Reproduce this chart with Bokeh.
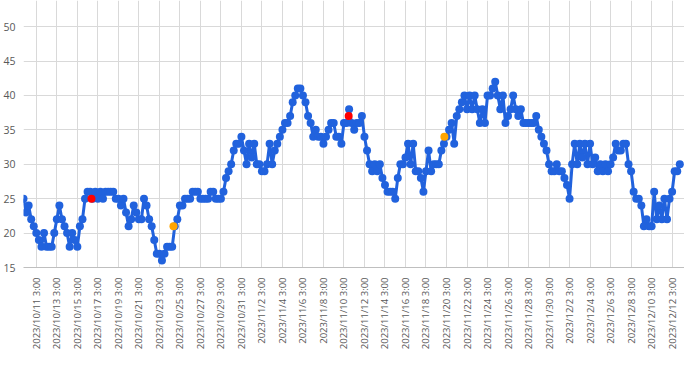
import math
from bokeh.plotting import figure
from bokeh.models import Range1d, FixedTicker
from bokeh.embed import file_html
from bokeh.resources import INLINE

# Time axis: hours since 2023/10/11 0:00; readings every 6 hours from 2023/10/9 21:00
start_hour = -27
step_hours = 6
values = [
    25, 23, 24, 22, 21, 20, 19, 18, 20, 18,
    18, 18, 20, 22, 24, 22, 21, 20, 18, 20,
    19, 18, 21, 22, 25, 26, 26, 25, 26, 25,
    26, 25, 26, 26, 26, 26, 25, 25, 24, 25,
    23, 21, 22, 24, 23, 22, 22, 25, 24, 22,
    21, 19, 17, 17, 16, 17, 18, 18, 18, 21,
    22, 24, 24, 25, 25, 25, 26, 26, 26, 25,
    25, 25, 25, 26, 26, 25, 25, 25, 26, 28,
    29, 30, 32, 33, 33, 34, 32, 30, 33, 31,
    33, 30, 30, 29, 29, 30, 33, 30, 32, 33,
    34, 35, 36, 36, 37, 39, 40, 41, 41, 40,
    39, 37, 36, 34, 35, 34, 34, 33, 34, 35,
    36, 36, 34, 34, 33, 36, 36, 38, 36, 35,
    36, 36, 37, 34, 32, 30, 29, 30, 29, 30,
    28, 27, 26, 26, 26, 25, 28, 30, 30, 31,
    33, 30, 33, 29, 29, 28, 26, 29, 32, 29,
    30, 30, 30, 32, 33, 34, 35, 36, 33, 37,
    38, 39, 40, 38, 40, 38, 40, 38, 36, 38,
    36, 40, 40, 41, 42, 40, 38, 40, 36, 37,
    38, 40, 38, 37, 38, 36, 36, 36, 36, 36,
    37, 35, 34, 33, 32, 30, 29, 29, 30, 29,
    29, 28, 27, 25, 30, 33, 30, 33, 31, 33,
    30, 33, 30, 31, 29, 30, 29, 30, 29, 30,
    31, 33, 32, 32, 33, 33, 30, 29, 26, 25,
    25, 24, 21, 22, 21, 21, 26, 22, 24, 22,
    25, 22, 25, 26, 29, 29, 30,
]

red_hours = [132, 734]
red_values = [25, 37]
orange_hours = [324, 958]
orange_values = [21, 34]

tick_labels = [
    "2023/10/11 3:00", "2023/10/13 3:00", "2023/10/15 3:00", "2023/10/17 3:00",
    "2023/10/19 3:00", "2023/10/21 3:00", "2023/10/23 3:00", "2023/10/25 3:00",
    "2023/10/27 3:00", "2023/10/29 3:00", "2023/10/31 3:00", "2023/11/2 3:00",
    "2023/11/4 3:00", "2023/11/6 3:00", "2023/11/8 3:00", "2023/11/10 3:00",
    "2023/11/12 3:00", "2023/11/14 3:00", "2023/11/16 3:00", "2023/11/18 3:00",
    "2023/11/20 3:00", "2023/11/22 3:00", "2023/11/24 3:00", "2023/11/26 3:00",
    "2023/11/28 3:00", "2023/11/30 3:00", "2023/12/2 3:00", "2023/12/4 3:00",
    "2023/12/6 3:00", "2023/12/8 3:00", "2023/12/10 3:00", "2023/12/12 3:00",
]
y_ticks = [15, 20, 25, 30, 35, 40, 45, 50]

xs = [start_hour + step_hours * i for i in range(len(values))]
tick_hours = [3 + 48 * k for k in range(len(tick_labels))]

BLUE = "#2162DD"
FONT = "Open Sans"
LABEL_COLOR = "#595959"
GRID = "#D9D9D9"

p = figure(width=684, height=352, output_backend="svg", toolbar_location=None,
           x_range=Range1d(xs[0], xs[-1] + 11), y_range=Range1d(15, 53.8),
           min_border_left=0, min_border_right=0, min_border_top=0, min_border_bottom=0)
p.outline_line_color = None
p.background_fill_color = "white"
p.border_fill_color = "white"

p.line(xs, values, line_color=BLUE, line_width=3)
p.scatter(xs, values, size=8, fill_color=BLUE, line_color=None)
p.scatter(red_hours, red_values, size=8, fill_color="#FF0000", line_color=None)
p.scatter(orange_hours, orange_values, size=8, fill_color="#FFA500", line_color=None)

p.xaxis.ticker = FixedTicker(ticks=tick_hours)
p.xaxis.major_label_overrides = {h: lab for h, lab in zip(tick_hours, tick_labels)}
p.xaxis.major_label_orientation = math.pi / 2
p.xaxis.axis_line_color = "#BFBFBF"
p.xaxis.major_tick_line_color = None
p.xaxis.minor_tick_line_color = None
p.xaxis.major_label_text_font = FONT
p.xaxis.major_label_text_font_size = "9.5px"
p.xaxis.major_label_text_color = LABEL_COLOR
p.xaxis.major_label_standoff = 4

p.yaxis.ticker = FixedTicker(ticks=y_ticks)
p.yaxis.axis_line_color = None
p.yaxis.major_tick_line_color = None
p.yaxis.minor_tick_line_color = None
p.yaxis.major_label_text_font = FONT
p.yaxis.major_label_text_font_size = "10.5px"
p.yaxis.major_label_text_color = LABEL_COLOR
p.yaxis.major_label_standoff = 2

p.xgrid.ticker = FixedTicker(ticks=tick_hours)
p.ygrid.ticker = FixedTicker(ticks=y_ticks)
p.xgrid.grid_line_color = GRID
p.ygrid.grid_line_color = GRID

open("out.html", "w").write(file_html(p, INLINE))
